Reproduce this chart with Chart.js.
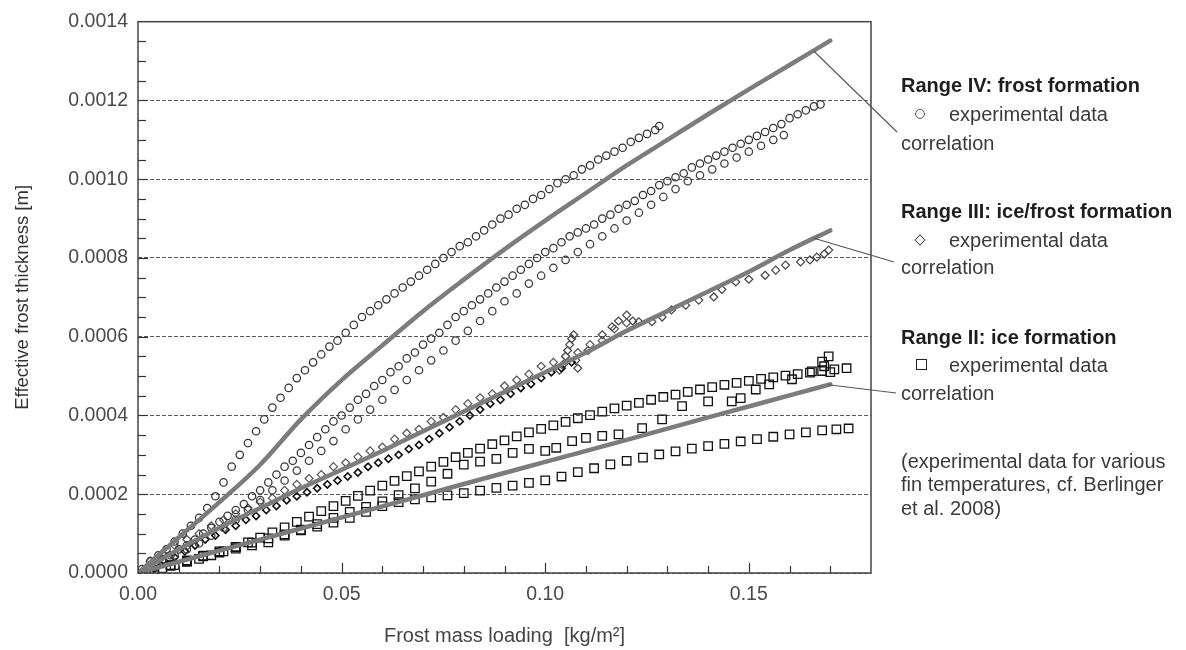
<!DOCTYPE html>
<html>
<head>
<meta charset="utf-8">
<script src="https://cdn.jsdelivr.net/npm/chart.js@4.4.1/dist/chart.umd.min.js"></script>
<style>
  body { margin: 0; background: #fff; }
  #wrap { position: relative; width: 1186px; height: 650px; font-family: "Liberation Sans", Arial, sans-serif; }
  canvas { position: absolute; left: 0; top: 0; }
  .leg { position: absolute; left: 901px; font-size: 20px; line-height: 24px; color: #3a3a3a; white-space: nowrap; }
  .leg.head { font-weight: bold; color: #1e1e1e; }
  .leg.sub { left: 949px; }
  .mark { position: absolute; box-sizing: border-box; }
</style>
</head>
<body>
<div id="wrap">
  <canvas id="frostChart" width="1186" height="650"></canvas>

  <div class="leg head" style="top:73px">Range IV: frost formation</div>
  <div class="leg sub" style="top:102px">experimental data</div>
  <div class="leg" style="top:131px">correlation</div>

  <div class="leg head" style="top:199px">Range III: ice/frost formation</div>
  <div class="leg sub" style="top:228px">experimental data</div>
  <div class="leg" style="top:255px">correlation</div>

  <div class="leg head" style="top:325px">Range II: ice formation</div>
  <div class="leg sub" style="top:353px">experimental data</div>
  <div class="leg" style="top:381px">correlation</div>

  <div class="leg" style="top:450px; line-height:23.3px">(experimental data for various<br>fin temperatures, cf. Berlinger<br>et al. 2008)</div>

  <!-- legend symbols -->
  <span class="mark" style="left:915px; top:109px; width:10px; height:10px; border:1.3px solid #555; border-radius:50%"></span>
  <span class="mark" style="left:916px; top:236px; width:8px; height:8px; border:1.3px solid #555; transform:rotate(45deg)"></span>
  <span class="mark" style="left:916px; top:359px; width:11px; height:11px; border:1.5px solid #222"></span>
</div>

<script>
// thickness values are read in mm, converted to m for the axis

// tick labels
var xTickValues = [0, 0.05, 0.10, 0.15];
var yTickValues = [0, 0.0002, 0.0004, 0.0006, 0.0008, 0.0010, 0.0012, 0.0014];

// Range IV: frost formation (circles) [x kg/m2, thickness mm]
var rangeIVSetA = [[0.001,0.01],[0.003,0.03],[0.005,0.045],[0.007,0.06],[0.009,0.08],[0.011,0.1],[0.013,0.12],[0.015,0.14],[0.017,0.165],[0.019,0.195],[0.021,0.23],[0.023,0.27],[0.025,0.30],[0.027,0.33],[0.029,0.36],[0.031,0.39],[0.033,0.42],[0.035,0.445],[0.037,0.47],[0.039,0.495],[0.041,0.515],[0.043,0.535],[0.045,0.555],[0.047,0.575],[0.049,0.59],[0.051,0.61],[0.053,0.63],[0.055,0.65],[0.057,0.665],[0.059,0.68],[0.061,0.695],[0.063,0.71],[0.065,0.725],[0.067,0.74],[0.069,0.755],[0.071,0.77],[0.073,0.785],[0.075,0.8],[0.077,0.815],[0.079,0.83],[0.081,0.84],[0.083,0.855],[0.085,0.87],[0.087,0.885],[0.089,0.9],[0.091,0.91],[0.093,0.925],[0.095,0.935],[0.097,0.95],[0.099,0.96],[0.101,0.975],[0.103,0.99],[0.105,1.0],[0.107,1.01],[0.109,1.025],[0.111,1.035],[0.113,1.05],[0.115,1.06],[0.117,1.07],[0.119,1.08],[0.121,1.095],[0.123,1.105],[0.125,1.115],[0.127,1.125],[0.128,1.135]];
var rangeIVSetB = [[0.002,0.01],[0.004,0.02],[0.006,0.035],[0.008,0.045],[0.010,0.06],[0.012,0.07],[0.014,0.085],[0.016,0.1],[0.018,0.115],[0.020,0.13],[0.022,0.145],[0.024,0.16],[0.026,0.175],[0.028,0.195],[0.030,0.21],[0.032,0.23],[0.034,0.25],[0.036,0.27],[0.038,0.285],[0.040,0.305],[0.042,0.325],[0.044,0.345],[0.046,0.365],[0.048,0.385],[0.050,0.40],[0.052,0.42],[0.054,0.44],[0.056,0.455],[0.058,0.475],[0.060,0.49],[0.062,0.51],[0.064,0.525],[0.066,0.545],[0.068,0.56],[0.070,0.58],[0.072,0.595],[0.074,0.61],[0.076,0.63],[0.078,0.65],[0.080,0.665],[0.082,0.68],[0.084,0.695],[0.086,0.71],[0.088,0.725],[0.090,0.74],[0.092,0.755],[0.094,0.77],[0.096,0.785],[0.098,0.80],[0.100,0.815],[0.102,0.825],[0.104,0.84],[0.106,0.855],[0.108,0.865],[0.110,0.875],[0.112,0.885],[0.114,0.9],[0.116,0.91],[0.118,0.925],[0.120,0.935],[0.122,0.945],[0.124,0.96],[0.126,0.97],[0.128,0.985],[0.130,0.995],[0.132,1.005],[0.134,1.015],[0.136,1.03],[0.138,1.04],[0.140,1.05],[0.142,1.06],[0.144,1.07],[0.146,1.08],[0.148,1.09],[0.150,1.1],[0.152,1.11],[0.154,1.12],[0.156,1.13],[0.158,1.14],[0.160,1.155],[0.162,1.165],[0.164,1.175],[0.166,1.185],[0.1676,1.19]];
var rangeIVSetC = [[0.003,0.015],[0.006,0.03],[0.009,0.045],[0.012,0.06],[0.015,0.075],[0.018,0.095],[0.021,0.115],[0.024,0.135],[0.027,0.16],[0.030,0.185],[0.033,0.21],[0.036,0.235],[0.039,0.26],[0.042,0.285],[0.045,0.31],[0.048,0.335],[0.051,0.365],[0.054,0.39],[0.057,0.415],[0.060,0.44],[0.063,0.465],[0.066,0.49],[0.069,0.515],[0.072,0.54],[0.075,0.565],[0.078,0.59],[0.081,0.615],[0.084,0.64],[0.087,0.665],[0.090,0.69],[0.093,0.71],[0.096,0.735],[0.099,0.755],[0.102,0.775],[0.105,0.795],[0.108,0.815],[0.111,0.835],[0.114,0.855],[0.117,0.875],[0.120,0.895],[0.123,0.915],[0.126,0.935],[0.129,0.955],[0.132,0.975],[0.135,0.995],[0.138,1.01],[0.141,1.025],[0.144,1.04],[0.147,1.055],[0.150,1.07],[0.153,1.085],[0.156,1.1],[0.1586,1.112]];

// Range III: ice/frost formation (diamonds)
var rangeIIISetA = [[0.003,0.03],[0.006,0.05],[0.009,0.07],[0.012,0.085],[0.015,0.1],[0.018,0.12],[0.021,0.135],[0.024,0.15],[0.027,0.165],[0.030,0.18],[0.033,0.19],[0.036,0.21],[0.039,0.225],[0.042,0.24],[0.045,0.25],[0.048,0.27],[0.051,0.28],[0.054,0.295],[0.057,0.31],[0.060,0.32],[0.063,0.34],[0.066,0.355],[0.069,0.365],[0.072,0.385],[0.075,0.395],[0.078,0.415],[0.081,0.43],[0.084,0.445],[0.087,0.455],[0.090,0.475],[0.093,0.49],[0.096,0.505],[0.099,0.525],[0.102,0.535],[0.105,0.55],[0.108,0.56],[0.111,0.58],[0.114,0.59],[0.117,0.62],[0.120,0.635]];
var rangeIIISetB = [[0.004,0.01],[0.0065,0.03],[0.009,0.04],[0.0115,0.055],[0.014,0.07],[0.0165,0.085],[0.019,0.095],[0.0215,0.11],[0.024,0.12],[0.0265,0.135],[0.029,0.145],[0.0315,0.16],[0.034,0.17],[0.0365,0.185],[0.039,0.195],[0.0415,0.205],[0.044,0.215],[0.0465,0.225],[0.049,0.235],[0.0515,0.245],[0.054,0.255],[0.0565,0.27],[0.059,0.28],[0.0615,0.29],[0.064,0.3],[0.0665,0.315],[0.069,0.325],[0.0715,0.34],[0.074,0.355],[0.0765,0.37],[0.079,0.385],[0.0815,0.4],[0.084,0.415],[0.0865,0.43],[0.089,0.44],[0.0915,0.455],[0.094,0.47],[0.0965,0.48],[0.099,0.495],[0.1015,0.51],[0.104,0.52],[0.1065,0.535]];
var rangeIIISetC = [[0.1035,0.515],[0.1045,0.53],[0.105,0.55],[0.1055,0.565],[0.106,0.58],[0.1065,0.595],[0.107,0.605],[0.1075,0.54],[0.108,0.52],[0.1105,0.565],[0.114,0.605],[0.1164,0.625],[0.118,0.64],[0.120,0.655],[0.1215,0.64],[0.123,0.638],[0.1262,0.638],[0.1287,0.65],[0.131,0.668],[0.1345,0.68],[0.1377,0.693],[0.1414,0.701],[0.1434,0.72],[0.1468,0.739],[0.150,0.746],[0.154,0.756],[0.1566,0.769],[0.159,0.782],[0.1627,0.79],[0.165,0.795],[0.1667,0.802],[0.1685,0.81],[0.1696,0.82]];

// Range II: ice formation (squares)
var rangeIISetA = [[0.003,0.005],[0.006,0.012],[0.009,0.02],[0.012,0.028],[0.015,0.036],[0.018,0.045],[0.021,0.055],[0.024,0.066],[0.027,0.078],[0.030,0.09],[0.033,0.103],[0.036,0.116],[0.039,0.13],[0.042,0.143],[0.045,0.157],[0.048,0.17],[0.051,0.183],[0.054,0.196],[0.057,0.209],[0.060,0.222],[0.063,0.234],[0.066,0.246],[0.069,0.258],[0.072,0.27],[0.075,0.282],[0.078,0.294],[0.081,0.305],[0.084,0.316],[0.087,0.327],[0.090,0.337],[0.093,0.347],[0.096,0.357],[0.099,0.366],[0.102,0.375],[0.105,0.384],[0.108,0.393],[0.111,0.401],[0.114,0.41],[0.117,0.418],[0.120,0.425],[0.123,0.432],[0.126,0.44],[0.129,0.447],[0.132,0.453],[0.135,0.46],[0.138,0.466],[0.141,0.472],[0.144,0.478],[0.147,0.483],[0.150,0.488],[0.153,0.493],[0.156,0.497],[0.159,0.501],[0.162,0.505],[0.165,0.509],[0.168,0.513],[0.171,0.517],[0.174,0.52]];
var rangeIISetB = [[0.004,0.008],[0.008,0.018],[0.012,0.03],[0.016,0.042],[0.020,0.052],[0.024,0.062],[0.028,0.07],[0.032,0.078],[0.036,0.095],[0.040,0.11],[0.044,0.124],[0.048,0.14],[0.052,0.155],[0.056,0.168],[0.060,0.182],[0.064,0.198],[0.068,0.215],[0.072,0.232],[0.076,0.252],[0.080,0.275],[0.084,0.283],[0.088,0.29],[0.092,0.305],[0.096,0.315],[0.100,0.31],[0.1027,0.318],[0.1066,0.335],[0.110,0.343],[0.114,0.348],[0.118,0.352],[0.1238,0.368],[0.1287,0.39],[0.1336,0.424],[0.140,0.436],[0.1458,0.436],[0.148,0.444],[0.1517,0.466],[0.155,0.479],[0.1606,0.492],[0.1655,0.512],[0.168,0.537],[0.1685,0.525],[0.1696,0.55],[0.170,0.51]];
var rangeIISetC = [[0.004,0.008],[0.008,0.02],[0.012,0.032],[0.016,0.044],[0.020,0.055],[0.024,0.066],[0.028,0.077],[0.032,0.088],[0.036,0.098],[0.040,0.108],[0.044,0.118],[0.048,0.128],[0.052,0.14],[0.056,0.155],[0.060,0.17],[0.064,0.18],[0.068,0.187],[0.072,0.192],[0.076,0.197],[0.080,0.203],[0.084,0.209],[0.088,0.216],[0.092,0.222],[0.096,0.229],[0.100,0.235],[0.104,0.245],[0.108,0.256],[0.112,0.266],[0.116,0.276],[0.120,0.285],[0.124,0.293],[0.128,0.301],[0.132,0.309],[0.136,0.316],[0.140,0.322],[0.144,0.328],[0.148,0.334],[0.152,0.34],[0.156,0.346],[0.160,0.352],[0.164,0.357],[0.168,0.362],[0.1715,0.365],[0.1745,0.367]];

// correlation curves
var corrIV = [[0,0],[0.01,0.09],[0.02,0.18],[0.03,0.275],[0.04,0.39],[0.05,0.49],[0.06,0.578],[0.07,0.665],[0.08,0.745],[0.09,0.822],[0.10,0.895],[0.11,0.965],[0.12,1.035],[0.13,1.1],[0.14,1.165],[0.15,1.228],[0.16,1.29],[0.17,1.352]];
var corrIII = [[0,0],[0.01,0.06],[0.02,0.115],[0.03,0.165],[0.04,0.215],[0.05,0.262],[0.06,0.31],[0.07,0.36],[0.08,0.41],[0.09,0.46],[0.10,0.51],[0.11,0.56],[0.12,0.615],[0.13,0.665],[0.14,0.715],[0.15,0.765],[0.16,0.82],[0.17,0.87]];
var corrII = [[0,0],[0.02,0.057],[0.04,0.113],[0.06,0.169],[0.08,0.226],[0.10,0.282],[0.12,0.338],[0.14,0.395],[0.16,0.451],[0.17,0.479]];

// where the leader lines leave each correlation curve [x, mm]
var leaderStarts = [[0.166, 1.325], [0.166, 0.85], [0.1695, 0.478]];
// and where they meet the "correlation" labels (page pixels)
var leaderEnds = [[897, 132], [894, 262], [896, 393]];

var fontFamily = '"Liberation Sans", Arial, sans-serif';

// pairs -> chart points
function toPoints(pairs) {
    return pairs.map(p => ({ x: p[0], y: p[1] / 1000 }));
}

function corrSet(pairs) {
    return {
        data: toPoints(pairs),
        showLine: true,
        borderColor: '#7c7c7c',
        borderWidth: 4.5,
        pointRadius: 0,
        cubicInterpolationMode: 'monotone',
        borderCapStyle: 'round'
    };
}

function markSet(pairs, style, radius, color, width) {
    return {
        data: toPoints(pairs),
        showLine: false,
        pointStyle: style,
        pointRadius: radius,
        pointBorderWidth: width,
        pointBorderColor: color,
        pointBackgroundColor: 'rgba(0,0,0,0)'
    };
}

// inward tick marks, plot frame and leader lines
var axisDecor = {
    id: 'axisDecor',
    afterDraw(chart) {
        var ctx = chart.ctx;
        var a = chart.chartArea;
        var xs = chart.scales.x, ys = chart.scales.y;
        ctx.save();
        ctx.strokeStyle = '#333';
        ctx.lineWidth = 1.2;
        for (var i = 1; i < 18; i++) {
            var px = Math.round(xs.getPixelForValue(i / 100)) + 0.5;
            var len = (i % 5 === 0) ? 10 : 7;
            ctx.beginPath();
            ctx.moveTo(px, a.bottom);
            ctx.lineTo(px, a.bottom - len);
            ctx.stroke();
        }
        for (var j = 1; j < 28; j++) {
            var py = Math.round(ys.getPixelForValue(j * 0.00005)) + 0.5;
            var l = (j % 4 === 0) ? 10 : 8;
            ctx.beginPath();
            ctx.moveTo(a.left, py);
            ctx.lineTo(a.left + l, py);
            ctx.stroke();
        }
        ctx.strokeStyle = '#444';
        ctx.lineWidth = 1.5;
        ctx.strokeRect(a.left, a.top, a.right - a.left, a.bottom - a.top);

        ctx.strokeStyle = '#555';
        ctx.lineWidth = 1.1;
        leaderStarts.forEach(function (s, k) {
            ctx.beginPath();
            ctx.moveTo(xs.getPixelForValue(s[0]), ys.getPixelForValue(s[1] / 1000));
            ctx.lineTo(leaderEnds[k][0], leaderEnds[k][1]);
            ctx.stroke();
        });
        ctx.restore();
    }
};

var ctx = document.getElementById('frostChart').getContext('2d');
var frostChart = new Chart(ctx, {
    type: 'scatter',
    data: {
        datasets: [
            corrSet(corrIV),
            corrSet(corrIII),
            corrSet(corrII),
            markSet(rangeIVSetA, 'circle', 3.7, '#333', 1.25),
            markSet(rangeIVSetB, 'circle', 3.7, '#333', 1.25),
            markSet(rangeIVSetC, 'circle', 3.7, '#3c3c3c', 1.25),
            markSet(rangeIIISetA, 'rectRot', 4, '#555', 1.2),
            markSet(rangeIIISetB, 'rectRot', 3.6, '#111', 1.6),
            markSet(rangeIIISetC, 'rectRot', 4, '#444', 1.2),
            markSet(rangeIISetA, 'rect', 6, '#111', 1.3),
            markSet(rangeIISetB, 'rect', 6, '#111', 1.3),
            markSet(rangeIISetC, 'rect', 6, '#111', 1.3)
        ]
    },
    options: {
        responsive: false,
        animation: false,
        devicePixelRatio: 1,
        layout: { padding: { left: 0, top: 18, right: 315, bottom: 0 } },
        plugins: { legend: { display: false }, tooltip: { enabled: false } },
        scales: {
            x: {
                type: 'linear',
                min: 0,
                max: 0.18,
                afterFit: function (s) { s.height = 77; },
                afterBuildTicks: function (s) { s.ticks = xTickValues.map(v => ({ value: v })); },
                grid: { display: false, drawTicks: false },
                border: { display: false },
                ticks: {
                    callback: v => v.toFixed(2),
                    color: '#4a4a4a',
                    font: { family: fontFamily, size: 19.5 },
                    padding: 10,
                    maxRotation: 0,
                    autoSkip: false
                },
                title: {
                    display: true,
                    text: 'Frost mass loading  [kg/m²]',
                    color: '#444',
                    font: { family: fontFamily, size: 20 },
                    padding: { top: 0, bottom: 2 }
                }
            },
            y: {
                type: 'linear',
                min: 0,
                max: 0.0014,
                afterFit: function (s) { s.width = 138; },
                afterBuildTicks: function (s) { s.ticks = yTickValues.map(v => ({ value: v })); },
                grid: { color: '#5a5a5a', lineWidth: 1, drawTicks: false },
                border: { display: false, dash: [4, 2] },
                ticks: {
                    callback: v => v.toFixed(4),
                    color: '#4a4a4a',
                    font: { family: fontFamily, size: 19.5 },
                    padding: 10
                },
                title: {
                    display: true,
                    text: 'Effective frost thickness [m]',
                    color: '#333',
                    font: { family: fontFamily, size: 18.5 },
                    padding: { top: 12, bottom: 0 }
                }
            }
        }
    },
    plugins: [axisDecor]
});
</script>
</body>
</html>
